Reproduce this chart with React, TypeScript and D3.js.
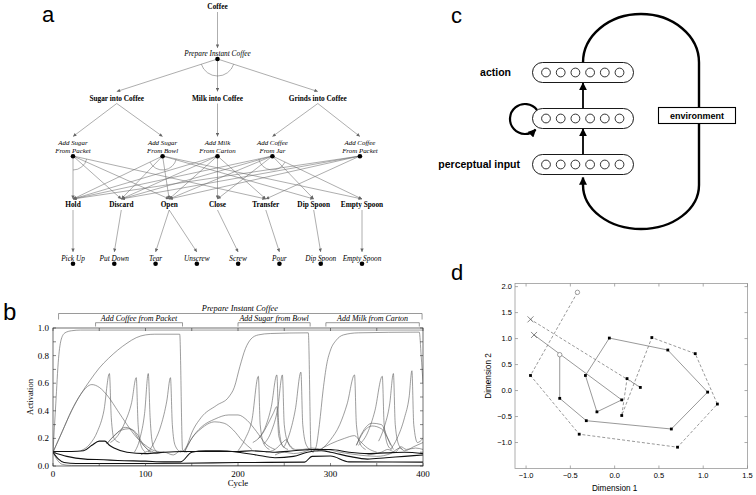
import React from "react";
import * as d3 from "d3";

type P = [number, number];

// ---------------- Panel a : task hierarchy ----------------
const goalLabel = "Coffee";
const taskLabel = "Prepare Instant Coffee";
const subgoalLabels = ["Sugar into Coffee", "Milk into Coffee", "Grinds into Coffee"];
const subgoalCols = [1.06, 3.5, 5.93];
const subtaskLine1 = ["Add Sugar", "Add Sugar", "Add Milk", "Add Coffee", "Add Coffee"];
const subtaskLine2 = ["From Packet", "From Bowl", "From Carton", "From Jar", "From Packet"];
const subtaskCols = [0, 2.17, 3.5, 4.83, 6.95];
const subtaskParent = [0, 0, 1, 2, 2];
const actionLabels = ["Hold", "Discard", "Open", "Close", "Transfer", "Dip Spoon", "Empty Spoon"];
const actionCols = [0, 1.17, 2.33, 3.5, 4.67, 5.83, 7];
const subtaskActions = [[0, 1, 2, 4], [0, 1, 2, 5, 6], [0, 1, 2, 3, 4], [0, 1, 2, 3, 5, 6], [0, 1, 2, 4]];
const andSubtasks = [0, 1, 3];
const primitiveLabels = ["Pick Up", "Put Down", "Tear", "Unscrew", "Screw", "Pour", "Dip Spoon", "Empty Spoon"];
const primitiveCols = [0, 1, 2, 3, 4, 5, 6, 7];
const primitiveParent = [0, 1, 2, 2, 3, 4, 5, 6];

// ---------------- Panel b : activation traces ----------------
const cycleTicks = [0, 100, 200, 300, 400];
const activationTicks = [0, 0.2, 0.4, 0.6, 0.8, 1.0];
const taskBracketLabel = "Prepare Instant Coffee";
const taskBracketSpan = [6, 399];
const subtaskBracketLabels = ["Add Coffee from Packet", "Add Sugar from Bowl", "Add Milk from Carton"];
const subtaskBracketStarts = [46, 200, 295];
const subtaskBracketEnds = [140, 278, 396];

const prepareInstantCoffee: P[] = [[0, 0.1], [3, 0.45], [6, 0.78], [9, 0.92], [13, 0.965], [20, 0.98], [30, 0.985], [400, 0.985]];
const addCoffeeFromPacket: P[] = [[0, 0.1], [10, 0.25], [20, 0.4], [30, 0.52], [40, 0.62], [50, 0.71], [60, 0.78], [70, 0.84], [80, 0.89], [90, 0.93], [100, 0.95], [110, 0.955], [137, 0.955], [140, 0.12], [143, 0.1]];
const sugarIntoCoffee: P[] = [[0, 0.1], [10, 0.25], [20, 0.4], [30, 0.52], [42, 0.59], [50, 0.57], [60, 0.5], [70, 0.4], [80, 0.3], [90, 0.21], [100, 0.15], [110, 0.11], [120, 0.1]];
const addSugarFromBowl: P[] = [[140, 0.1], [145, 0.15], [150, 0.24], [160, 0.35], [177, 0.44], [190, 0.5], [196, 0.57], [202, 0.72], [208, 0.85], [214, 0.92], [222, 0.95], [235, 0.96], [276, 0.965], [279, 0.12], [282, 0.1]];
const addMilkFromCarton: P[] = [[280, 0.1], [284, 0.13], [288, 0.3], [292, 0.55], [296, 0.74], [300, 0.84], [306, 0.91], [314, 0.95], [330, 0.965], [396, 0.97], [398, 0.8], [400, 0.6]];

const spikesCoffee: P[][] = [
  [[30, 0.11], [40, 0.16], [48, 0.25], [55, 0.4], [61, 0.67], [63, 0.35], [66, 0.2], [72, 0.17]],
  [[62, 0.17], [70, 0.22], [78, 0.32], [85, 0.46], [90, 0.64], [92, 0.3], [95, 0.15], [100, 0.1]],
  [[88, 0.1], [94, 0.2], [99, 0.38], [103, 0.67], [105, 0.35], [108, 0.15], [113, 0.1]],
  [[103, 0.1], [110, 0.18], [117, 0.3], [123, 0.47], [127, 0.64], [129, 0.3], [132, 0.15], [138, 0.1]],
];
const spikesSugar: P[][] = [
  [[200, 0.11], [208, 0.2], [215, 0.33], [222, 0.65], [224, 0.3], [228, 0.16], [234, 0.12]],
  [[222, 0.2], [230, 0.29], [236, 0.43], [242, 0.66], [244, 0.3], [248, 0.15], [254, 0.12]],
  [[228, 0.16], [236, 0.25], [243, 0.42], [248, 0.66], [250, 0.3], [254, 0.17], [260, 0.12]],
  [[250, 0.14], [256, 0.24], [262, 0.41], [268, 0.68], [270, 0.3], [274, 0.15], [280, 0.11]],
];
const spikesMilk: P[][] = [
  [[290, 0.12], [300, 0.19], [310, 0.3], [318, 0.45], [326, 0.66], [328, 0.3], [332, 0.16], [338, 0.12]],
  [[330, 0.15], [340, 0.24], [348, 0.4], [356, 0.65], [358, 0.3], [362, 0.15], [366, 0.12]],
  [[352, 0.18], [358, 0.28], [364, 0.45], [368, 0.67], [370, 0.3], [374, 0.15], [378, 0.12]],
  [[365, 0.12], [372, 0.2], [380, 0.35], [385, 0.5], [388, 0.69], [390, 0.3], [394, 0.17], [400, 0.2]],
];
const bells: P[][] = [
  [[58, 0.16], [66, 0.22], [74, 0.26], [82, 0.27], [90, 0.24], [98, 0.15], [106, 0.1]],
  [[58, 0.16], [68, 0.23], [78, 0.28], [86, 0.26], [94, 0.18], [104, 0.11]],
  [[142, 0.1], [150, 0.2], [160, 0.28], [175, 0.34], [190, 0.37], [200, 0.37], [210, 0.33], [220, 0.25], [230, 0.16], [240, 0.12]],
  [[142, 0.1], [150, 0.2], [160, 0.27], [175, 0.32], [185, 0.31], [195, 0.26], [205, 0.18], [215, 0.12]],
  [[216, 0.17], [225, 0.22], [232, 0.3], [238, 0.38], [242, 0.43], [244, 0.22], [250, 0.13]],
  [[286, 0.11], [300, 0.16], [315, 0.2], [326, 0.22], [332, 0.18], [340, 0.13], [350, 0.1]],
  [[328, 0.15], [335, 0.25], [345, 0.31], [355, 0.3], [362, 0.2], [368, 0.12]],
  [[328, 0.15], [335, 0.24], [345, 0.29], [355, 0.27], [365, 0.15]],
];
const wiggles: P[][] = [
  [[95, 0.08], [105, 0.11], [112, 0.09], [120, 0.1], [130, 0.08], [138, 0.11], [145, 0.1]],
  [[230, 0.1], [240, 0.12], [248, 0.17], [252, 0.19], [256, 0.15], [262, 0.12], [270, 0.12], [280, 0.13], [290, 0.12], [300, 0.1]],
  [[240, 0.08], [250, 0.1], [260, 0.09], [270, 0.1], [280, 0.12], [295, 0.12], [310, 0.1], [330, 0.08], [350, 0.07], [365, 0.09], [375, 0.13], [380, 0.11], [390, 0.14], [400, 0.17]],
  [[340, 0.08], [355, 0.1], [362, 0.12], [370, 0.1], [376, 0.14], [382, 0.12], [392, 0.13], [400, 0.12]],
  [[0, 0.1], [5, 0.04], [10, 0.012], [20, 0.004], [200, 0.004], [400, 0.004]],
];
const darkTraces: P[][] = [
  [[0, 0.105], [20, 0.105], [33, 0.11], [42, 0.15], [50, 0.18], [56, 0.18], [61, 0.15], [66, 0.13], [80, 0.1], [100, 0.09], [120, 0.1], [140, 0.105], [160, 0.105], [200, 0.105], [215, 0.11], [240, 0.1], [260, 0.11], [280, 0.12], [300, 0.12], [320, 0.1], [340, 0.09], [360, 0.095], [380, 0.1], [400, 0.09]],
  [[0, 0.1], [15, 0.07], [35, 0.05], [55, 0.045], [70, 0.04], [100, 0.035], [120, 0.03], [138, 0.03], [150, 0.1], [165, 0.11], [180, 0.11], [200, 0.1], [220, 0.08], [240, 0.06], [260, 0.07], [275, 0.1], [290, 0.11], [300, 0.1], [320, 0.07], [340, 0.05], [360, 0.06], [380, 0.07], [400, 0.08]],
  [[0, 0.1], [6, 0.05], [12, 0.025], [25, 0.018], [60, 0.018], [140, 0.02], [200, 0.025], [272, 0.028], [280, 0.07], [300, 0.072], [320, 0.03], [400, 0.028]],
];

// ---------------- Panel c : network ----------------
const layerLabels = ["action", "", "perceptual input"];
const layerIndex = [0, 1, 2];
const unitIndex = [0, 1, 2, 3, 4, 5];
const environmentLabel = "environment";

// ---------------- Panel d : trajectories ----------------
const solidX = [-0.62, -0.62, -0.32, 0.64, 1.05, 0.6, -0.06, -0.33, -0.2, 0.08, -0.91];
const solidY = [0.69, -0.15, -0.58, -0.74, -0.03, 0.78, 1.01, 0.29, -0.41, -0.18, 1.07];
const dashedX = [-0.42, -0.95, -0.4, 0.71, 1.16, 0.91, 0.42, 0.08, 0.14, 0.29, -0.95];
const dashedY = [1.89, 0.29, -0.84, -1.09, -0.26, 0.71, 1.02, -0.48, 0.23, 0.06, 1.37];
const dim1Ticks = [-1.0, -0.5, 0, 0.5, 1.0, 1.5];
const dim2Ticks = [-1.0, -0.5, 0, 0.5, 1.0, 1.5, 2.0];

const serif = "'Liberation Serif', 'Times New Roman', serif";
const sans = "'Liberation Sans', Arial, Helvetica, sans-serif";

function arcPath(cx: number, cy: number, r: number, a1: number, a2: number) {
  const p1 = [cx + r * Math.cos(a1), cy + r * Math.sin(a1)];
  const p2 = [cx + r * Math.cos(a2), cy + r * Math.sin(a2)];
  const large = a2 - a1 > Math.PI ? 1 : 0;
  return `M${p1[0]},${p1[1]} A${r},${r} 0 ${large} 1 ${p2[0]},${p2[1]}`;
}

function PanelA() {
  const xA = d3.scaleLinear().domain([0, 7]).range([73, 362]);
  const rootX = xA(3.5);
  const edge = { stroke: "#6a6a6a", strokeWidth: 0.55, fill: "none" } as const;
  const els: React.ReactNode[] = [];
  const fs = 7.3;
  els.push(<text key="goal" x={rootX} y={9} textAnchor="middle" fontFamily={serif} fontWeight="bold" fontSize={fs}>{goalLabel}</text>);
  els.push(<line key="e0" x1={rootX} y1={12} x2={rootX} y2={48} {...edge} markerEnd="url(#ahA)" />);
  els.push(<text key="task" x={rootX} y={56} textAnchor="middle" fontFamily={serif} fontStyle="italic" fontSize={fs}>{taskLabel}</text>);
  const angs: number[] = [];
  subgoalLabels.forEach((lab, i) => {
    const x = xA(subgoalCols[i]);
    angs.push(Math.atan2(91.5 - 59, x - rootX));
    els.push(<line key={"e1" + i} x1={rootX} y1={59} x2={x} y2={91.5} {...edge} markerEnd="url(#ahA)" />);
    els.push(<text key={"l1" + i} x={x} y={100.5} textAnchor="middle" fontFamily={serif} fontWeight="bold" fontSize={fs}>{lab}</text>);
  });
  els.push(<path key="arc0" d={arcPath(rootX, 59, 17, d3.min(angs)!, d3.max(angs)!)} {...edge} />);
  els.push(<circle key="d0" cx={rootX} cy={59} r={2.3} fill="#000" />);
  subtaskLine1.forEach((l1, i) => {
    const x = xA(subtaskCols[i]);
    const px = xA(subgoalCols[subtaskParent[i]]);
    els.push(<line key={"e2" + i} x1={px} y1={103.5} x2={x} y2={136.5} {...edge} markerEnd="url(#ahA)" />);
  });
  subtaskLine1.forEach((_, i) => {
    const x = xA(subtaskCols[i]);
    const a: number[] = [];
    subtaskActions[i].forEach((j) => {
      const ax = xA(actionCols[j]);
      a.push(Math.atan2(199 - 156, ax - x));
      els.push(<line key={`e3-${i}-${j}`} x1={x} y1={156} x2={ax} y2={199} {...edge} markerEnd="url(#ahA)" />);
    });
    if (andSubtasks.includes(i)) {
      els.push(<path key={"arc" + i} d={arcPath(x, 156, 14, d3.min(a)!, d3.max(a)!)} {...edge} />);
    }
  });
  subtaskLine1.forEach((l1, i) => {
    const x = xA(subtaskCols[i]);
    els.push(<text key={"l2a" + i} x={x} y={145.4} textAnchor="middle" fontFamily={serif} fontStyle="italic" fontSize={6.9}>{l1}</text>);
    els.push(<text key={"l2b" + i} x={x} y={153.4} textAnchor="middle" fontFamily={serif} fontStyle="italic" fontSize={6.9}>{subtaskLine2[i]}</text>);
    els.push(<circle key={"d2" + i} cx={x} cy={156.3} r={2.3} fill="#000" />);
  });
  actionLabels.forEach((lab, j) => {
    const x = xA(actionCols[j]);
    els.push(<text key={"l3" + j} x={x} y={206.5} textAnchor="middle" fontFamily={serif} fontWeight="bold" fontSize={fs}>{lab}</text>);
  });
  primitiveLabels.forEach((lab, k) => {
    const x = xA(primitiveCols[k]);
    const px = xA(actionCols[primitiveParent[k]]);
    els.push(<line key={"e4" + k} x1={px} y1={210} x2={x} y2={252} {...edge} markerEnd="url(#ahA)" />);
    els.push(<text key={"l4" + k} x={x} y={260.5} textAnchor="middle" fontFamily={serif} fontStyle="italic" fontSize={fs}>{lab}</text>);
    els.push(<circle key={"d4" + k} cx={x} cy={263.8} r={2.3} fill="#000" />);
  });
  return (
    <g>
      <text x={48} y={22} textAnchor="middle" fontFamily={sans} fontSize={22}>a</text>
      {els}
    </g>
  );
}

function PanelB() {
  const xB = d3.scaleLinear().domain([0, 400]).range([53, 423]);
  const yB = d3.scaleLinear().domain([0, 1]).range([466, 328]);
  const line = d3.line<P>().x((d) => xB(d[0])).y((d) => yB(d[1])).curve(d3.curveMonotoneX);
  const gray = [prepareInstantCoffee, addCoffeeFromPacket, sugarIntoCoffee, addSugarFromBowl, addMilkFromCarton, ...spikesCoffee, ...spikesSugar, ...spikesMilk, ...bells, ...wiggles];
  const yMinor = d3.range(0, 1.0001, 0.1);
  const xMinor = d3.range(0, 401, 50);
  const [x0, x1] = xB.range();
  const [yb, yt] = yB.range();
  return (
    <g>
      <text x={3} y={320} fontFamily={sans} fontSize={24}>b</text>
      <defs>
        <clipPath id="clipB"><rect x={x0} y={yt - 1} width={x1 - x0} height={yb - yt + 1} /></clipPath>
      </defs>
      <path d={`M${xB(taskBracketSpan[0])},319.5 V313.5 H${xB(taskBracketSpan[1])} V319.5`} fill="none" stroke="#555" strokeWidth={0.6} />
      <text x={xB(202)} y={311.3} textAnchor="middle" fontFamily={serif} fontStyle="italic" fontSize={8.4}>{taskBracketLabel}</text>
      {subtaskBracketLabels.map((lab, i) => (
        <g key={lab}>
          <path d={`M${xB(subtaskBracketStarts[i])},326.5 V322.7 H${xB(subtaskBracketEnds[i])} V326.5`} fill="none" stroke="#555" strokeWidth={0.6} />
          <text x={(xB(subtaskBracketStarts[i]) + xB(subtaskBracketEnds[i])) / 2} y={320.6} textAnchor="middle" fontFamily={serif} fontStyle="italic" fontSize={8}>{lab}</text>
        </g>
      ))}
      <g clipPath="url(#clipB)">
        {gray.map((s, i) => <path key={"g" + i} d={line(s)!} fill="none" stroke="#5a5a5a" strokeWidth={0.6} />)}
        {darkTraces.map((s, i) => <path key={"k" + i} d={line(s)!} fill="none" stroke="#111" strokeWidth={1.1} />)}
      </g>
      <rect x={x0} y={yt} width={x1 - x0} height={yb - yt} fill="none" stroke="#333" strokeWidth={0.7} />
      {yMinor.map((v, i) => (
        <g key={"yt" + i}>
          <line x1={x0} x2={x0 + 3} y1={yB(v)} y2={yB(v)} stroke="#333" strokeWidth={0.6} />
          <line x1={x1} x2={x1 - 3} y1={yB(v)} y2={yB(v)} stroke="#333" strokeWidth={0.6} />
        </g>
      ))}
      {xMinor.map((v, i) => (
        <g key={"xt" + i}>
          <line x1={xB(v)} x2={xB(v)} y1={yb} y2={yb - 3} stroke="#333" strokeWidth={0.6} />
          <line x1={xB(v)} x2={xB(v)} y1={yt} y2={yt + 3} stroke="#333" strokeWidth={0.6} />
        </g>
      ))}
      {activationTicks.map((v) => (
        <text key={"ya" + v} x={49} y={yB(v) + 3} textAnchor="end" fontFamily={serif} fontSize={9}>{d3.format(".1f")(v)}</text>
      ))}
      {cycleTicks.map((v) => (
        <text key={"xa" + v} x={xB(v)} y={476.5} textAnchor="middle" fontFamily={serif} fontSize={9}>{v}</text>
      ))}
      <text x={xB(200)} y={486} textAnchor="middle" fontFamily={serif} fontSize={8.8}>Cycle</text>
      <text transform={`translate(32.5,${yB(0.5)}) rotate(-90)`} textAnchor="middle" fontFamily={serif} fontSize={8.5}>Activation</text>
    </g>
  );
}

function PanelC() {
  const layerY = d3.scalePoint<number>().domain(layerIndex).range([72.5, 164.5]);
  const unitX = d3.scalePoint<number>().domain(unitIndex).range([546, 619.5]);
  const pillX0 = 532.5, pillX1 = 633.5, pillH = 20;
  const cx = (pillX0 + pillX1) / 2;
  const ya = layerY(0)!, yh = layerY(1)!, yp = layerY(2)!;
  const right = 699;
  return (
    <g>
      <text x={451} y={23} fontFamily={sans} fontSize={22}>c</text>
      <path d={`M${cx},${ya - pillH / 2} A${(right - cx) / 2},48.5 0 0 1 ${right},${ya - pillH / 2} L${right},185 A${(right - cx) / 2},44 0 0 1 ${cx},185 L${cx},177.5`} fill="none" stroke="#000" strokeWidth={2.4} markerEnd="url(#ahC)" />
      <line x1={cx} y1={yh - pillH / 2} x2={cx} y2={ya + pillH / 2 + 0.5} stroke="#000" strokeWidth={1.8} markerEnd="url(#ahC)" />
      <line x1={cx} y1={yp - pillH / 2} x2={cx} y2={yh + pillH / 2 + 0.5} stroke="#000" strokeWidth={1.8} markerEnd="url(#ahC)" />
      <path d={`M537,110 A15,15 0 1 0 535.6,129.6`} fill="none" stroke="#000" strokeWidth={2.2} markerEnd="url(#ahC)" />
      {layerIndex.map((li) => (
        <g key={"layer" + li}>
          <rect x={pillX0} y={layerY(li)! - pillH / 2} width={pillX1 - pillX0} height={pillH} rx={pillH / 2} fill="#fff" stroke="#000" strokeWidth={0.9} />
          {unitIndex.map((u) => (
            <circle key={u} cx={unitX(u)} cy={layerY(li)} r={4.4} fill="#fff" stroke="#000" strokeWidth={0.8} />
          ))}
        </g>
      ))}
      <text x={511} y={ya + 3.8} textAnchor="end" fontFamily={sans} fontWeight="bold" fontSize={10.5}>{layerLabels[0]}</text>
      <text x={520} y={yp + 3.8} textAnchor="end" fontFamily={sans} fontWeight="bold" fontSize={10.5}>{layerLabels[2]}</text>
      <rect x={658.5} y={107.5} width={77} height={16} fill="#fff" stroke="#000" strokeWidth={1.1} />
      <text x={697} y={118.8} textAnchor="middle" fontFamily={sans} fontWeight="bold" fontSize={9}>{environmentLabel}</text>
    </g>
  );
}

function PanelD() {
  const xD = d3.scaleLinear().domain([-1.125, 1.5]).range([515, 747.5]);
  const yD = d3.scaleLinear().domain([-1.5, 2.06]).range([468.5, 283.5]);
  const [x0, x1] = xD.range();
  const [yb, yt] = yD.range();
  const solid: [number, number][] = solidX.map((v, i) => [xD(v), yD(solidY[i])]);
  const dashed: [number, number][] = dashedX.map((v, i) => [xD(v), yD(dashedY[i])]);
  const lineGen = d3.line();
  const squares = (pts: [number, number][]) => pts.slice(1, -1).map((p, i) => (
    <rect key={i} x={p[0] - 1.4} y={p[1] - 1.4} width={2.8} height={2.8} fill="#000" />
  ));
  const cross = (p: [number, number], k: string) => (
    <path key={k} d={`M${p[0] - 3},${p[1] - 3} L${p[0] + 3},${p[1] + 3} M${p[0] - 3},${p[1] + 3} L${p[0] + 3},${p[1] - 3}`} stroke="#555" strokeWidth={0.7} />
  );
  return (
    <g>
      <text x={451} y={280} fontFamily={sans} fontSize={22}>d</text>
      <rect x={x0} y={yt} width={x1 - x0} height={yb - yt} fill="none" stroke="#999" strokeWidth={0.8} />
      {dim1Ticks.map((v) => (
        <g key={"dx" + v}>
          <line x1={xD(v)} x2={xD(v)} y1={yb} y2={yb - 3} stroke="#888" strokeWidth={0.7} />
          <line x1={xD(v)} x2={xD(v)} y1={yt} y2={yt + 3} stroke="#888" strokeWidth={0.7} />
          <text x={xD(v)} y={478.3} textAnchor="middle" fontFamily={sans} fontSize={7.5}>{d3.format(".1f")(v)}</text>
        </g>
      ))}
      {dim2Ticks.map((v) => (
        <g key={"dy" + v}>
          <line x1={x0} x2={x0 + 3} y1={yD(v)} y2={yD(v)} stroke="#888" strokeWidth={0.7} />
          <line x1={x1} x2={x1 - 3} y1={yD(v)} y2={yD(v)} stroke="#888" strokeWidth={0.7} />
          <text x={512} y={yD(v) + 2.7} textAnchor="end" fontFamily={sans} fontSize={7.5}>{d3.format(".1f")(v)}</text>
        </g>
      ))}
      <text x={xD(0)} y={491} textAnchor="middle" fontFamily={sans} fontSize={8.2}>Dimension 1</text>
      <text transform={`translate(491,${yD(0.28)}) rotate(-90)`} textAnchor="middle" fontFamily={sans} fontSize={8.2}>Dimension 2</text>
      <path d={lineGen(solid)!} fill="none" stroke="#777" strokeWidth={0.75} />
      <path d={lineGen(dashed)!} fill="none" stroke="#777" strokeWidth={0.75} strokeDasharray="3,2" />
      {squares(solid)}
      {squares(dashed)}
      <circle cx={solid[0][0]} cy={solid[0][1]} r={2.2} fill="#fff" stroke="#777" strokeWidth={0.7} />
      <circle cx={dashed[0][0]} cy={dashed[0][1]} r={2.2} fill="#fff" stroke="#777" strokeWidth={0.7} />
      {cross(solid[solid.length - 1], "cs")}
      {cross(dashed[dashed.length - 1], "cd")}
    </g>
  );
}

export default function App() {
  return (
    <svg width={756} height={495} viewBox="0 0 756 495" style={{ position: "absolute", left: 0, top: 0, display: "block", background: "#fff" }}>
      <defs>
        <marker id="ahA" viewBox="0 0 10 10" refX={10} refY={5} markerWidth={4.5} markerHeight={3.4} markerUnits="userSpaceOnUse" orient="auto">
          <path d="M0,0 L10,5 L0,10 Z" fill="#666" />
        </marker>
        <marker id="ahC" viewBox="0 0 10 10" refX={9} refY={5} markerWidth={8} markerHeight={8} markerUnits="userSpaceOnUse" orient="auto">
          <path d="M0,0 L10,5 L0,10 Z" fill="#000" />
        </marker>
      </defs>
      <rect width={756} height={495} fill="#fff" />
      <PanelA />
      <PanelB />
      <PanelC />
      <PanelD />
    </svg>
  );
}
